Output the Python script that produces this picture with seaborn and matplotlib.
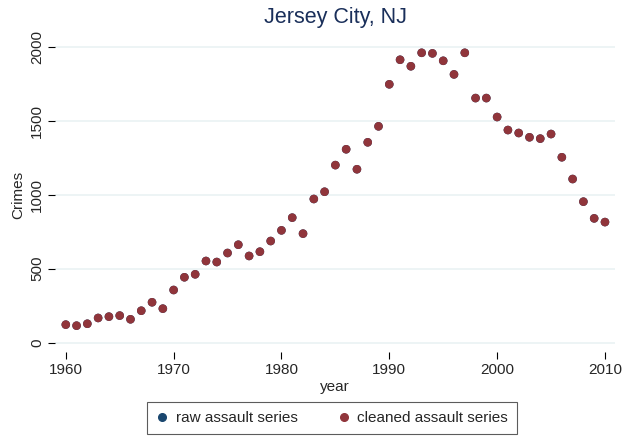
import numpy as np
import pandas as pd
import matplotlib
matplotlib.use("Agg")
import matplotlib.pyplot as plt
import seaborn as sns

# data (raw series is hidden below the cleaned one)
years = list(range(1960, 2011))
cleaned = [122, 115, 128, 167, 176, 183, 158, 216, 273, 230,
           356, 442, 462, 552, 545, 606, 662, 586, 615, 687,
           759, 845, 737, 971, 1020, 1200, 1307, 1172, 1354, 1462,
           1746, 1912, 1868, 1959, 1955, 1905, 1813, 1959, 1653, 1653,
           1525, 1437, 1417, 1388, 1379, 1410, 1253, 1106, 953, 840,
           815]
raw = list(cleaned)
series_names = ["raw assault series", "cleaned assault series"]
colors = ["#1a476f", "#90353b"]

df = pd.concat([
    pd.DataFrame({"year": years, "Crimes": raw, "series": series_names[0]}),
    pd.DataFrame({"year": years, "Crimes": cleaned, "series": series_names[1]}),
])

sns.set_theme(style="white")
plt.rcParams["font.family"] = ["Liberation Sans", "DejaVu Sans"]

W, H = 636, 437
fig = plt.figure(figsize=(W / 100, H / 100), dpi=100)
ax = fig.add_axes([55 / W, 1 - 352 / H, (615 - 55) / W, (352 - 38) / H])

sns.scatterplot(data=df, x="year", y="Crimes", hue="series",
                hue_order=series_names, palette=colors, s=38,
                linewidth=0, ax=ax, legend=False, zorder=3)

ax.set_xlim(1959.0, 2010.93)
ax.set_ylim(-63, 2059)
ax.set_xticks([1960, 1970, 1980, 1990, 2000, 2010])
ax.set_yticks([0, 500, 1000, 1500, 2000])
ax.set_yticklabels(["0", "500", "1000", "1500", "2000"], rotation=90, va="center")
ax.yaxis.grid(True, color="#eaf2f3", lw=1.2)
ax.xaxis.grid(False)
for sp in ax.spines.values():
    sp.set_visible(False)
ax.tick_params(axis="both", direction="out", length=5, width=0.8,
               color="black", labelsize=11, bottom=True, left=True)
ax.tick_params(axis="y", pad=3)
ax.tick_params(axis="x", pad=3)
ax.set_xlabel("year", fontsize=11, labelpad=2)
ax.set_ylabel("Crimes", fontsize=11, labelpad=3)
ax.set_title("Jersey City, NJ", fontsize=15.5, color="#1a2f5a", pad=11)

handles = [plt.Line2D([], [], marker="o", ls="", color=c, markersize=5.5)
           for c in colors]
leg = fig.legend(handles, series_names, loc="center", ncol=2,
                 bbox_to_anchor=(332 / W, 1 - 418 / H), fontsize=11,
                 frameon=True, fancybox=False, handletextpad=0.5,
                 columnspacing=2.6, borderpad=0.6, borderaxespad=0,
                 handlelength=0.8)
leg.get_frame().set_edgecolor("#333333")
leg.get_frame().set_linewidth(0.8)

fig.savefig("out.png", dpi=100)
